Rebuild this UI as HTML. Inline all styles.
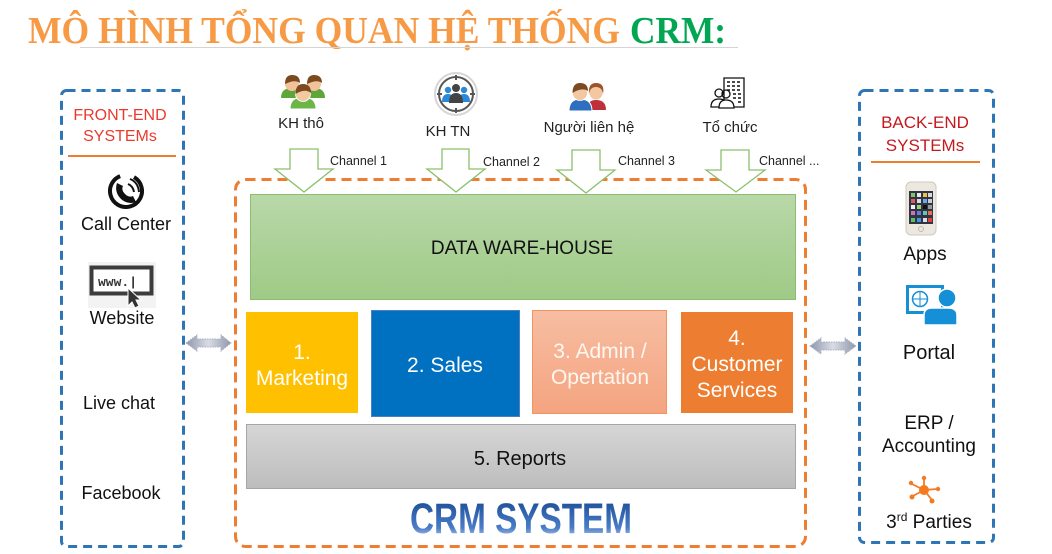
<!DOCTYPE html>
<html><head><meta charset="utf-8"><style>
html,body{margin:0;padding:0;background:#fff;}
svg{display:block;}
text{font-family:"Liberation Sans","DejaVu Sans",sans-serif;}
</style></head><body>
<svg width="1052" height="554" viewBox="0 0 1052 554" xmlns="http://www.w3.org/2000/svg">
<defs>
<linearGradient id="gGreen" x1="0" y1="0" x2="0" y2="1"><stop offset="0" stop-color="#b9d8a9"/><stop offset="1" stop-color="#9fca86"/></linearGradient>
<linearGradient id="gAdmin" x1="0" y1="0" x2="0" y2="1"><stop offset="0" stop-color="#f7bda2"/><stop offset="1" stop-color="#f4a480"/></linearGradient>
<linearGradient id="gGray" x1="0" y1="0" x2="0" y2="1"><stop offset="0" stop-color="#d6d6d6"/><stop offset="1" stop-color="#bdbdbd"/></linearGradient>
<linearGradient id="gCrm" gradientUnits="userSpaceOnUse" x1="0" y1="500" x2="0" y2="540"><stop offset="0" stop-color="#1d4f98"/><stop offset="0.7" stop-color="#4a7cc8"/><stop offset="1" stop-color="#c8d8f2"/></linearGradient>
<linearGradient id="gDbl" x1="0" y1="0" x2="1" y2="0"><stop offset="0" stop-color="#8e97ab"/><stop offset="0.5" stop-color="#d9dce5"/><stop offset="1" stop-color="#8e97ab"/></linearGradient>
</defs>

<!-- Title -->
<text x="28" y="43" font-weight="bold" font-size="38" fill="#f79a46" textLength="592" lengthAdjust="spacingAndGlyphs" style="font-family:'Liberation Serif',serif">MÔ HÌNH TỔNG QUAN HỆ THỐNG</text>
<text x="630" y="43" font-weight="bold" font-size="38" fill="#00a651" textLength="96" lengthAdjust="spacingAndGlyphs" style="font-family:'Liberation Serif',serif">CRM:</text>
<line x1="80" y1="47.5" x2="738" y2="47.5" stroke="#d4d4d4" stroke-width="1"/>

<!-- Front-end box -->
<rect x="61.5" y="90.5" width="122" height="456" rx="5" fill="none" stroke="#2e75b6" stroke-width="3" stroke-dasharray="9 6"/>
<text x="120" y="120" text-anchor="middle" font-size="16" fill="#ea3a2e">FRONT-END</text>
<text x="120" y="141" text-anchor="middle" font-size="16" fill="#ea3a2e">SYSTEMs</text>
<line x1="68" y1="156" x2="176" y2="156" stroke="#ed7d31" stroke-width="2"/>

<!-- Call center icon -->
<g>
<circle cx="126" cy="191" r="16" fill="none" stroke="#111" stroke-width="4" stroke-dasharray="86 15" transform="rotate(-60 126 191)"/>
<path d="M117,183 q-3,9 4,16 q7,6 15,3 l-3,-6 q-4,2 -8,-2 q-4,-4 -2,-8 z" fill="#111"/>
<path d="M128,184 q5,2 6,8" fill="none" stroke="#111" stroke-width="2"/>
<path d="M130,179 q8,3 9,13" fill="none" stroke="#111" stroke-width="2"/>
</g>
<text x="126" y="230" text-anchor="middle" font-size="18" fill="#111">Call Center</text>

<!-- Website icon -->
<rect x="88" y="262" width="68" height="46" fill="#f3f3f3"/>
<rect x="91.5" y="267.5" width="60" height="26" fill="#fff" stroke="#3c3c3c" stroke-width="4"/>
<text x="98" y="286" font-size="13" font-weight="bold" fill="#333" style="font-family:'Liberation Mono',monospace">www.|</text>
<polygon points="128,288 128,306 132,302 135,308 139,306 136,300 141,300" fill="#333" stroke="#fff" stroke-width="1"/>
<text x="122" y="324" text-anchor="middle" font-size="18" fill="#111">Website</text>

<text x="119" y="409" text-anchor="middle" font-size="18" fill="#111">Live chat</text>
<text x="121" y="499" text-anchor="middle" font-size="18" fill="#111">Facebook</text>

<!-- Double arrows -->
<polygon points="186,343 197,335 197,339 221,339 221,335 231,343 221,351 221,347 197,347 197,351" fill="url(#gDbl)" stroke="#a9b0c2" stroke-width="1" stroke-dasharray="1.5 1"/>
<polygon points="810,346 821,338 821,342 845,342 845,338 856,346 845,354 845,350 821,350 821,354" fill="url(#gDbl)" stroke="#a9b0c2" stroke-width="1" stroke-dasharray="1.5 1"/>

<!-- Back-end box -->
<rect x="859.5" y="90.5" width="134" height="452" rx="5" fill="none" stroke="#2e75b6" stroke-width="3" stroke-dasharray="9 6"/>
<text x="925" y="128" text-anchor="middle" font-size="17" fill="#c41a1f">BACK-END</text>
<text x="925" y="151" text-anchor="middle" font-size="17" fill="#c41a1f">SYSTEMs</text>
<line x1="871" y1="162" x2="980" y2="162" stroke="#ed7d31" stroke-width="2"/>

<!-- Phone icon -->
<rect x="906" y="182" width="30" height="53" rx="5" fill="#ece8df" stroke="#cfcac0" stroke-width="1"/>
<rect x="909" y="191" width="24" height="33" fill="#2f3545"/>
<g>
<rect x="911" y="193" width="4" height="4" fill="#7cc56b"/><rect x="917" y="193" width="4" height="4" fill="#e9e9e9"/><rect x="923" y="193" width="4" height="4" fill="#f0c040"/><rect x="928" y="193" width="4" height="4" fill="#d9d9d9"/>
<rect x="911" y="199" width="4" height="4" fill="#e85a5a"/><rect x="917" y="199" width="4" height="4" fill="#dcdcdc"/><rect x="923" y="199" width="4" height="4" fill="#6aa8e8"/><rect x="928" y="199" width="4" height="4" fill="#cccccc"/>
<rect x="911" y="205" width="4" height="4" fill="#f2f2f2"/><rect x="917" y="205" width="4" height="4" fill="#a0d070"/><rect x="923" y="205" width="4" height="4" fill="#111"/><rect x="928" y="205" width="4" height="4" fill="#999"/>
<rect x="911" y="211" width="4" height="4" fill="#d070c0"/><rect x="917" y="211" width="4" height="4" fill="#6080d0"/><rect x="923" y="211" width="4" height="4" fill="#70c0b0"/><rect x="928" y="211" width="4" height="4" fill="#e07050"/>
<rect x="911" y="218" width="4" height="4" fill="#5cc05c"/><rect x="917" y="218" width="4" height="4" fill="#4a90e0"/><rect x="923" y="218" width="4" height="4" fill="#e0e0e0"/><rect x="928" y="218" width="4" height="4" fill="#e04040"/>
</g>
<circle cx="921" cy="229" r="2.5" fill="none" stroke="#bbb" stroke-width="1"/>
<text x="925" y="260" text-anchor="middle" font-size="19" fill="#111">Apps</text>

<!-- Portal icon -->
<rect x="907.5" y="286.5" width="35" height="26" fill="#fff" stroke="#1590d6" stroke-width="3"/>
<circle cx="920" cy="299" r="7.5" fill="none" stroke="#1590d6" stroke-width="1.5"/>
<path d="M913,299 h14 M920,292 v14" stroke="#1590d6" stroke-width="1"/>
<circle cx="947" cy="298" r="9" fill="#1590d6" stroke="#fff" stroke-width="1.5"/>
<path d="M924,325 v-10 q0,-7 8,-7 h16 q9,0 9,7 v10 z" fill="#1590d6" stroke="#fff" stroke-width="1.5"/>
<text x="929" y="359" text-anchor="middle" font-size="20" fill="#111">Portal</text>

<text x="929" y="429" text-anchor="middle" font-size="19" fill="#111">ERP /</text>
<text x="929" y="452" text-anchor="middle" font-size="19" fill="#111">Accounting</text>

<!-- Network icon -->
<g stroke="#f47a20" stroke-width="1.8" fill="#f47a20">
<line x1="924" y1="490" x2="924" y2="479"/><line x1="924" y1="490" x2="937" y2="489"/><line x1="924" y1="490" x2="932" y2="500"/><line x1="924" y1="490" x2="913" y2="496"/><line x1="924" y1="490" x2="912" y2="484"/>
<circle cx="924" cy="490" r="5" stroke="none"/>
<circle cx="924" cy="478" r="2.2" stroke="none"/><circle cx="938" cy="489" r="2.2" stroke="none"/><circle cx="932" cy="501" r="2.5" stroke="none"/><circle cx="912" cy="497" r="2.5" stroke="none"/><circle cx="911" cy="483" r="2.2" stroke="none"/>
</g>
<text x="929" y="528" text-anchor="middle" font-size="19" fill="#111">3<tspan font-size="12" dy="-7">rd</tspan><tspan dy="7"> Parties</tspan></text>

<!-- CRM box -->
<rect x="235.5" y="179.5" width="570" height="367" rx="10" fill="none" stroke="#ed7d31" stroke-width="3" stroke-dasharray="10 6"/>

<!-- Top icons -->
<g>
<path d="M281,98 q0,-10 11,-10 q11,0 11,10 z" fill="#5ea63a"/>
<path d="M303,98 q0,-10 11,-10 q11,0 11,10 z" fill="#5ea63a"/>
<circle cx="292" cy="84" r="7" fill="#f2c39a"/><path d="M285,84 q0,-9 7,-9 q8,0 8,8 q-5,-4 -15,1 z" fill="#7b4a20"/>
<circle cx="314" cy="84" r="7" fill="#f2c39a"/><path d="M307,84 q0,-9 7,-9 q8,0 8,8 q-5,-4 -15,1 z" fill="#7b4a20"/>
<path d="M290,109 q0,-12 13,-12 q13,0 13,12 z" fill="#6cb548" stroke="#fff" stroke-width="1"/>
<circle cx="303" cy="94" r="7.5" fill="#f5c9a0" stroke="#fff" stroke-width="0.8"/><path d="M295.5,94 q0,-10 7.5,-10 q8,0 8,9 q-6,-5 -15.5,1 z" fill="#7b4a20"/>
</g>
<text x="301" y="128" text-anchor="middle" font-size="15" fill="#222">KH thô</text>

<g>
<circle cx="456" cy="94" r="21" fill="#fff" stroke="#d6d6d6" stroke-width="2"/>
<circle cx="456" cy="94" r="17" fill="#fff" stroke="#555" stroke-width="2"/>
<path d="M456,75 v5 M456,108 v5 M437,94 h5 M470,94 h5" stroke="#555" stroke-width="2"/>
<circle cx="448" cy="90" r="3.2" fill="#2a8ad8"/><path d="M442,102 q0,-8 6,-8 q6,0 6,8 z" fill="#2a8ad8"/>
<circle cx="464" cy="90" r="3.2" fill="#2a8ad8"/><path d="M458,102 q0,-8 6,-8 q6,0 6,8 z" fill="#2a8ad8"/>
<circle cx="456" cy="88" r="4" fill="#444"/><path d="M449,103 q0,-10 7,-10 q7,0 7,10 z" fill="#444"/>
</g>
<text x="448" y="136" text-anchor="middle" font-size="15" fill="#222">KH TN</text>

<g>
<path d="M587,110 q0,-10 9,-10 q10,0 10,10 z" fill="#c0303a"/>
<circle cx="596" cy="93" r="6.5" fill="#f3c8a0"/><path d="M589,94 q-1,-11 7,-11 q9,0 7,11 q-1,-7 -7,-7 q-6,0 -7,7 z" fill="#a0522d"/>
<path d="M569,111 q0,-12 11,-12 q12,0 12,12 z" fill="#2f6fc0" stroke="#fff" stroke-width="1"/>
<circle cx="580" cy="93" r="7.5" fill="#f3c8a0" stroke="#fff" stroke-width="0.8"/><path d="M572.5,93 q0,-10 7.5,-10 q8,0 8,8 q-6,-4 -15.5,2 z" fill="#7b4a20"/>
</g>
<text x="589" y="132" text-anchor="middle" font-size="15" fill="#222">Người liên hệ</text>

<g fill="none" stroke="#111" stroke-width="1.3">
<path d="M724,103 v-25 h20 v29 h-12"/>
<path d="M727,82 h3 M732,82 h3 M737,82 h3 M727,86 h3 M732,86 h3 M737,86 h3 M727,90 h3 M732,90 h3 M737,90 h3 M733,94 h3 M738,94 h3 M733,98 h3 M738,98 h3 M738,102 h3" stroke-width="1.5"/>
<circle cx="719" cy="93" r="4"/><path d="M711,107 q0,-8 8,-8 q8,0 8,8 z"/>
<circle cx="726" cy="94" r="4"/><path d="M719,108 q0,-8 7,-8 q8,0 8,8 z" fill="#fff"/>
</g>
<text x="730" y="132" text-anchor="middle" font-size="15" fill="#222">Tổ chức</text>

<!-- Channel arrows -->
<g fill="#fff" stroke="#8cc06c" stroke-width="1.3">
<polygon points="290,149 318,149 318,169 333,169 304,192 275,169 290,169"/>
<polygon points="442,149 469,149 469,169 485,169 456,192 427,169 442,169"/>
<polygon points="572,150 600,150 600,170 615,170 586,193 557,170 572,170"/>
<polygon points="721,150 749,150 749,170 765,170 736,192 706,170 721,170"/>
</g>
<text x="330" y="165" font-size="12.5" fill="#222">Channel 1</text>
<text x="483" y="166" font-size="12.5" fill="#222">Channel 2</text>
<text x="618" y="165" font-size="12.5" fill="#222">Channel 3</text>
<text x="759" y="165" font-size="12.5" fill="#222">Channel ...</text>

<!-- Data warehouse -->
<rect x="250.5" y="194.5" width="545" height="105" fill="url(#gGreen)" stroke="#8dbd6e" stroke-width="1"/>
<text x="522" y="254" text-anchor="middle" font-size="19" fill="#111">DATA WARE-HOUSE</text>

<!-- Modules -->
<rect x="246" y="312" width="112" height="101" fill="#ffc000"/>
<text x="302" y="359" text-anchor="middle" font-size="21" fill="#fff">1.</text>
<text x="302" y="385" text-anchor="middle" font-size="21" fill="#fff">Marketing</text>

<rect x="371.5" y="310.5" width="148" height="106" fill="#0070c0" stroke="#4a80c0" stroke-width="1"/>
<text x="445" y="372" text-anchor="middle" font-size="21" fill="#fff">2. Sales</text>

<rect x="532.5" y="310.5" width="134" height="103" fill="url(#gAdmin)" stroke="#f0955f" stroke-width="1"/>
<text x="600" y="358" text-anchor="middle" font-size="21" fill="#fff6f0">3. Admin /</text>
<text x="600" y="384" text-anchor="middle" font-size="21" fill="#fff6f0">Opertation</text>

<rect x="681" y="312" width="112" height="101" fill="#ed7d31"/>
<text x="737" y="345" text-anchor="middle" font-size="21" fill="#fff">4.</text>
<text x="737" y="371" text-anchor="middle" font-size="21" fill="#fff">Customer</text>
<text x="737" y="397" text-anchor="middle" font-size="21" fill="#fff">Services</text>

<!-- Reports -->
<rect x="246.5" y="424.5" width="549" height="64" fill="url(#gGray)" stroke="#a6a6a6" stroke-width="1"/>
<text x="520" y="465" text-anchor="middle" font-size="20" fill="#111">5. Reports</text>

<!-- CRM SYSTEM -->
<text x="410" y="533" font-size="43" font-weight="bold" fill="url(#gCrm)" textLength="222" lengthAdjust="spacingAndGlyphs">CRM SYSTEM</text>
</svg>
</body></html>
